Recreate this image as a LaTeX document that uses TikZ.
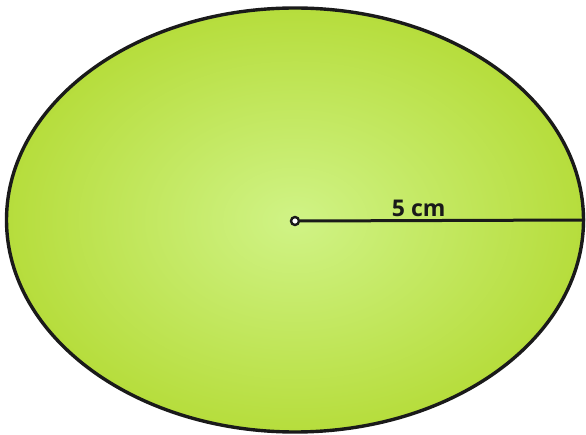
\documentclass[tikz,border=0pt]{standalone}
\usepackage{fontspec}
\setsansfont{Open Sans}
\usetikzlibrary{shapes.geometric,positioning,calc}
\definecolor{leafgreen}{HTML}{B6DD3C}
\definecolor{leaflight}{HTML}{D0F386}
\definecolor{rimblack}{HTML}{1A1A1A}

\begin{document}
\begin{tikzpicture}[x=1pt, y=-1pt,
  disk/.style={draw=rimblack, ellipse, line width=3.4pt,
               inner color=leaflight, outer color=leafgreen,
               minimum width=577pt, minimum height=424pt},
  radius/.style={draw=rimblack, line width=3pt},
  dot/.style={circle, draw=rimblack, fill=white, line width=2.4pt,
              inner sep=0pt, minimum size=8pt},
  lbl/.style={font=\sffamily\fontsize{23}{26}\selectfont\bfseries, text=rimblack}
]
  \useasboundingbox (0,0) rectangle (586,435);

  %% Shape
  \node[disk] (disk) at (295,220) {};
  \node[dot] (centre) at (295,221) {};

  %% Radius
  \draw[radius] (centre.east) -- (disk.east);
  \node[lbl, above=0pt of $(centre.east)!0.5!(disk.east)$, xshift=-24pt] (len) {5 cm};

\end{tikzpicture}
\end{document}
